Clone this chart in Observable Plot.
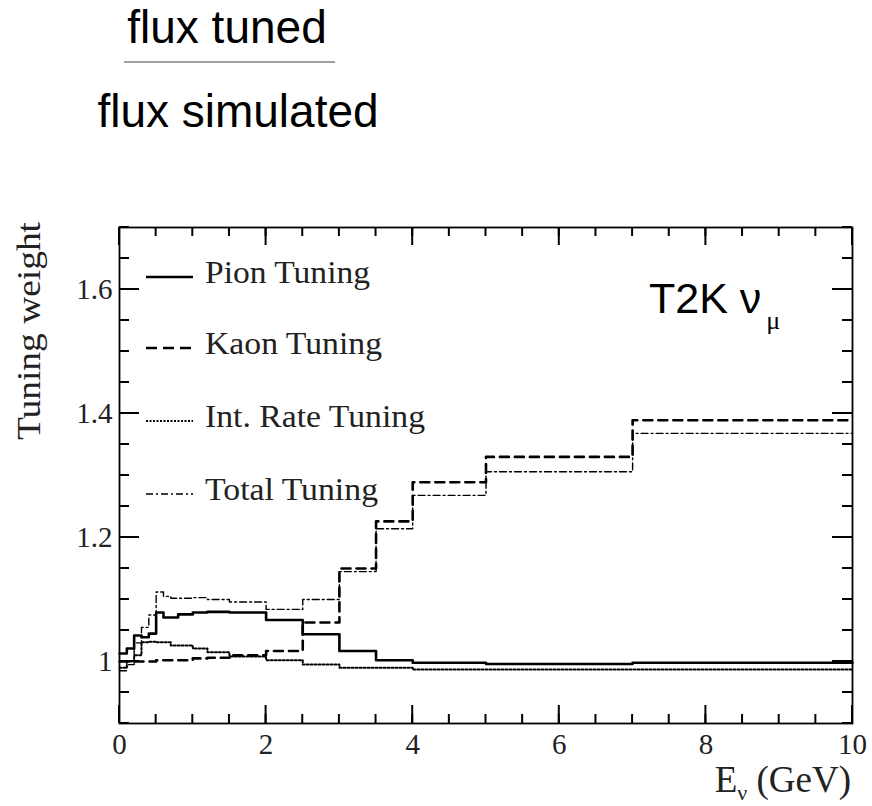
<!DOCTYPE html>
<html><head><meta charset="utf-8">
<script src="https://cdn.jsdelivr.net/npm/d3@7"></script>
<script src="https://cdn.jsdelivr.net/npm/@observablehq/plot@0.6"></script>
<style>
body{margin:0;background:#fff;}
#chart{position:relative;width:872px;height:806px;}
</style>
</head><body><div id="chart"></div>
<script>
// Bin edges (GeV)
const edges = [0,0.1,0.2,0.3,0.4,0.5,0.6,0.7,0.8,1.0,1.2,1.5,2.0,2.5,3.0,3.5,4.0,5.0,7.0,10.0];
// Tuning weights per bin
const pion    = [1.013,1.021,1.042,1.039,1.045,1.079,1.071,1.071,1.076,1.079,1.080,1.079,1.067,1.044,1.017,1.002,0.998,0.996,0.998];
const kaon    = [1.000,1.000,1.000,1.000,1.000,1.002,1.002,1.002,1.002,1.005,1.006,1.010,1.017,1.063,1.150,1.226,1.289,1.330,1.389];
const intRate = [0.990,1.000,1.010,1.031,1.032,1.031,1.031,1.026,1.026,1.021,1.015,1.008,1.002,0.995,0.990,0.990,0.987,0.987,0.987];
const total   = [0.985,0.995,1.030,1.055,1.075,1.112,1.105,1.102,1.102,1.103,1.100,1.096,1.084,1.100,1.145,1.214,1.268,1.306,1.368];
const seriesNames = ["Pion Tuning","Kaon Tuning","Int. Rate Tuning","Total Tuning"];
const xTicks = [0,2,4,6,8,10];
const yTicks = [1,1.2,1.4,1.6];

const styles = {
  "Pion Tuning": {w:2.6, dash:null, legDash:null},
  "Kaon Tuning": {w:2.6, dash:"9,6", legDash:"11,6"},
  "Int. Rate Tuning": {w:2, dash:"2,2", legDash:"2,1.5"},
  "Total Tuning": {w:1.4, dash:"7,3,2,3", legDash:"7,3,2,3"}
};

function rows(vals){
  const r = vals.map((v,i)=>({x:edges[i], y:v}));
  r.push({x:edges[edges.length-1], y:vals[vals.length-1]});
  return r;
}
const all = [pion,kaon,intRate,total];

const serif = "'Liberation Serif','Times New Roman',serif";
const sans = "'Liberation Sans',Arial,sans-serif";

const xDomain = [0,10], yDomain = [0.9,1.7];
const xMinor = d3.range(0,10.001,0.5);
const yMinor = d3.range(0.9,1.7001,0.05);

const W = 872, H = 806, mL = 119, mR = 20, mT = 227, mB = 83;

const marks = [];
all.forEach((vals,i)=>{
  const s = styles[seriesNames[i]];
  marks.push(Plot.line(rows(vals), {x:"x", y:"y", curve:"step-after", stroke:"black", strokeWidth:s.w, strokeDasharray:s.dash}));
});
marks.push(Plot.frame({stroke:"black", strokeWidth:1.8}));
// tick labels
marks.push(Plot.axisX(xTicks, {anchor:"bottom", tickSize:0, tickPadding:10, fontSize:29, fontFamily:serif, fill:"#222", label:null}));
marks.push(Plot.axisY(yTicks, {anchor:"left", tickSize:0, tickPadding:7, fontSize:29, fontFamily:serif, fill:"#222", label:null, tickFormat:d=> d===1?"1":d3.format(".1f")(d)}));

const plot = Plot.plot({
  width:W, height:H,
  marginLeft:mL, marginRight:mR, marginTop:mT, marginBottom:mB,
  x:{domain:xDomain, axis:null},
  y:{domain:yDomain, axis:null},
  style:{background:"white", overflow:"visible"},
  marks
});
document.getElementById("chart").appendChild(plot);

const svg = d3.select(plot);
const sx = plot.scale("x"), sy = plot.scale("y");
const X0 = sx.apply(xDomain[0]), X1 = sx.apply(xDomain[1]);
const Y0 = sy.apply(yDomain[0]), Y1 = sy.apply(yDomain[1]);

// inward ticks on all four sides
const tg = svg.append("g").attr("stroke","black").attr("stroke-width",2);
for (const [ticks,len] of [[xMinor,9],[xTicks,18]]) for (const t of ticks) {
  const px = sx.apply(t);
  tg.append("line").attr("x1",px).attr("x2",px).attr("y1",Y0).attr("y2",Y0-len);
  tg.append("line").attr("x1",px).attr("x2",px).attr("y1",Y1).attr("y2",Y1+len);
}
for (const [ticks,len] of [[yMinor,10],[yTicks,20]]) for (const t of ticks) {
  const py = sy.apply(t);
  tg.append("line").attr("y1",py).attr("y2",py).attr("x1",X0).attr("x2",X0+len);
  tg.append("line").attr("y1",py).attr("y2",py).attr("x1",X1).attr("x2",X1-len);
}

const txt = (x,y,opts={}) => svg.append("text").attr("x",x).attr("y",y)
  .attr("text-anchor",opts.anchor||"start").attr("font-family",opts.family||serif)
  .attr("font-size",opts.size||30).attr("fill",opts.fill||"black");

// Fraction title
txt(227,43,{anchor:"middle",family:sans,size:46}).text("flux tuned");
svg.append("line").attr("x1",124).attr("x2",335).attr("y1",62).attr("y2",62)
  .attr("stroke","#808080").attr("stroke-width",1.5);
txt(238,127,{anchor:"middle",family:sans,size:46}).text("flux simulated");

// Y axis title
svg.append("text").attr("transform","translate(40,222) rotate(-90)").attr("text-anchor","end")
  .attr("font-family",serif).attr("font-size",33).attr("fill","#222")
  .attr("textLength",218).attr("lengthAdjust","spacingAndGlyphs").text("Tuning weight");
// X axis title
const xtl = txt(851,792,{anchor:"end",size:37,fill:"#222"});
xtl.append("tspan").text("E");
xtl.append("tspan").attr("font-size",22).attr("dy",8).text("ν");
xtl.append("tspan").attr("dy",-8).text(" (GeV)");

// T2K label
const t2k = txt(649,313,{family:sans,size:43});
t2k.append("tspan").text("T2K ν");
t2k.append("tspan").attr("font-size",26).attr("dy",16).attr("dx",5).attr("font-family",serif).text("μ");

// Legend
const legY = [277,348,421,494];
const legLen = [165,177,220,173];
seriesNames.forEach((n,i)=>{
  const s = styles[n];
  svg.append("line").attr("x1",146).attr("x2",193).attr("y1",legY[i]).attr("y2",legY[i])
    .attr("stroke","black").attr("stroke-width",s.w).attr("stroke-dasharray",s.legDash);
  txt(205,legY[i]+6,{size:32,fill:"#222"}).attr("textLength",legLen[i])
    .attr("lengthAdjust","spacingAndGlyphs").text(n);
});
</script></body></html>
